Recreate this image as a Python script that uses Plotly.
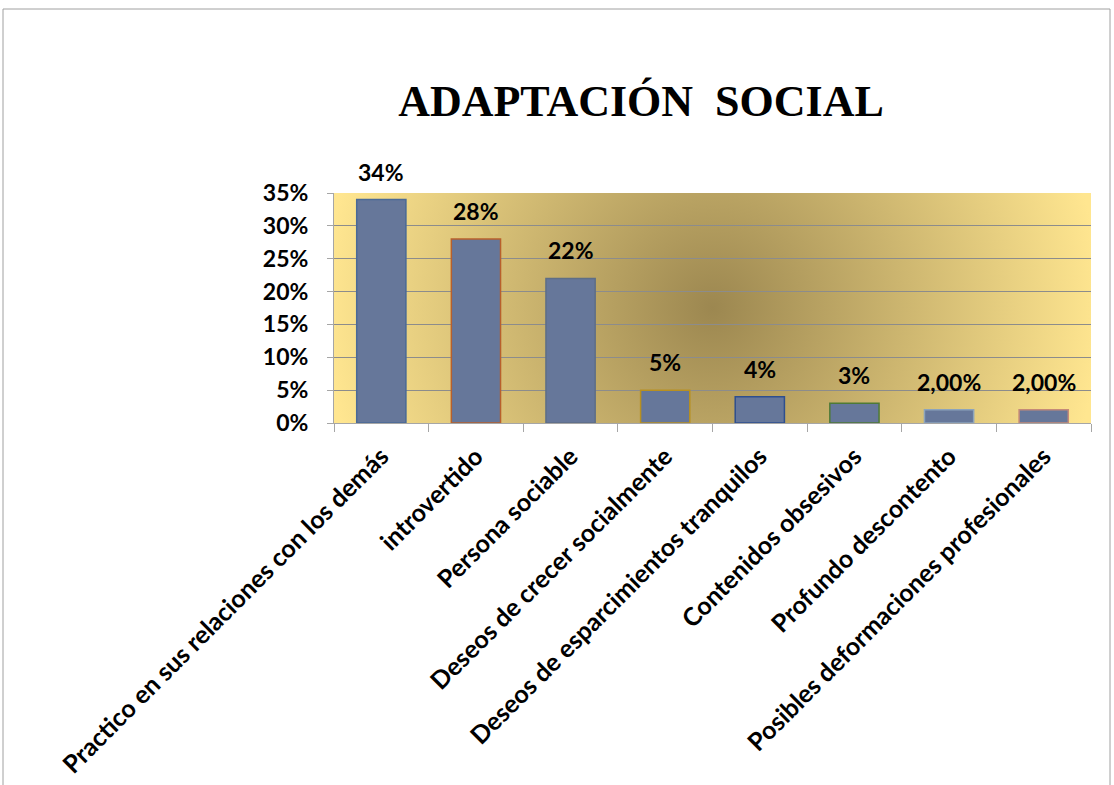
import base64
import plotly.graph_objects as go

categories = [
    "Practico en sus relaciones con los demás",
    "introvertido",
    "Persona sociable",
    "Deseos de crecer socialmente",
    "Deseos de esparcimientos tranquilos",
    "Contenidos obsesivos",
    "Profundo descontento",
    "Posibles deformaciones profesionales",
]
values = [0.34, 0.28, 0.22, 0.05, 0.04, 0.03, 0.02, 0.02]
value_labels = ["34%", "28%", "22%", "5%", "4%", "3%", "2,00%", "2,00%"]
y_ticks = [0, 0.05, 0.10, 0.15, 0.20, 0.25, 0.30, 0.35]
y_tick_labels = ["0%", "5%", "10%", "15%", "20%", "25%", "30%", "35%"]
edge_colors = ["#4A6A96", "#B8602C", "#5E6E86", "#B89020",
               "#2E4F8E", "#4E7A36", "#8CA4BC", "#C48A78"]

W, H = 1114, 785
L, R, T, B = 334, 23, 193, 362
pw, ph = W - L - R, H - T - B

svg = (
    f"<svg xmlns='http://www.w3.org/2000/svg' width='{pw}' height='{ph}' "
    f"viewBox='0 0 {pw} {ph}' preserveAspectRatio='none'><defs>"
    f"<radialGradient id='g' gradientUnits='userSpaceOnUse' cx='{pw/2}' cy='{ph/2}' r='{pw/2+10}'>"
    "<stop offset='0' stop-color='#9C8750'/><stop offset='1' stop-color='#FFE690'/>"
    "</radialGradient></defs>"
    f"<rect width='{pw}' height='{ph}' fill='url(#g)'/></svg>"
)
bg_src = "data:image/svg+xml;base64," + base64.b64encode(svg.encode()).decode()

font_family = "Lato, 'Open Sans', sans-serif"

fig = go.Figure()
fig.add_trace(go.Bar(
    x=categories,
    y=values,
    width=0.52,
    marker=dict(color="#66779A", line=dict(color=edge_colors, width=1.5)),
    hoverinfo="skip",
))

for c, v, t in zip(categories, values, value_labels):
    fig.add_annotation(
        x=c, y=v, text=t, showarrow=False, yanchor="bottom", yshift=12,
        font=dict(family=font_family, size=23, color="black", weight="bold"),
    )

fig.add_layout_image(dict(
    source=bg_src, xref="paper", yref="paper", x=0, y=1, sizex=1, sizey=1,
    xanchor="left", yanchor="top", sizing="stretch", layer="below",
))

fig.add_shape(
    type="rect", xref="paper", yref="paper",
    x0=(3 - L) / pw, x1=(1110 - L) / pw,
    y0=(H - B - 820) / ph, y1=(H - B - 9) / ph,
    line=dict(color="#A0A0A0", width=1), fillcolor="rgba(0,0,0,0)", layer="below",
)

fig.update_layout(
    width=W, height=H,
    margin=dict(l=L, r=R, t=T, b=B, autoexpand=False),
    paper_bgcolor="white",
    plot_bgcolor="rgba(0,0,0,0)",
    showlegend=False,
    title=dict(
        text="ADAPTACIÓN  SOCIAL",
        font=dict(family="Liberation Serif, 'Times New Roman', serif", size=44,
                  color="black", weight="bold"),
        xref="container", yref="container",
        x=641 / W, xanchor="center",
        y=1 - 101 / H, yanchor="middle",
    ),
    xaxis=dict(
        type="category",
        range=[-0.5, len(categories) - 0.5],
        showline=True, linecolor="#A6A6A6", linewidth=1,
        ticks="outside", tickson="boundaries", ticklen=8, tickcolor="#A6A6A6",
        tickangle=-45,
        ticklabelstandoff=8,
        tickfont=dict(family=font_family, size=25, color="black", weight="bold"),
        showgrid=False, automargin=False,
    ),
    yaxis=dict(
        range=[0, 0.35],
        tickvals=y_ticks, ticktext=y_tick_labels,
        showline=True, linecolor="#A6A6A6", linewidth=1,
        ticks="outside", ticklen=6, tickcolor="#A6A6A6",
        ticklabelstandoff=14,
        showgrid=True, gridcolor="#8C8C8C", gridwidth=1,
        zeroline=False,
        tickfont=dict(family=font_family, size=23, color="black", weight="bold"),
        automargin=False,
    ),
)

fig.write_html("out.html", config={"displayModeBar": False},
               post_script="document.body.style.margin='0';")
